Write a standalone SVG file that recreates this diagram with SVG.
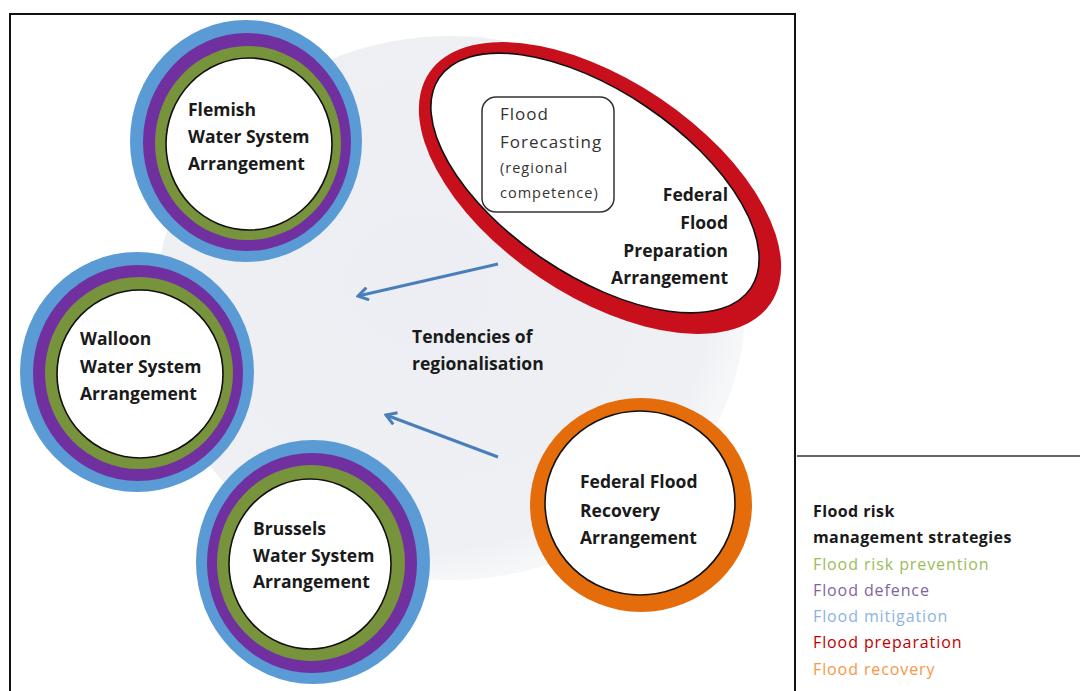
<svg xmlns="http://www.w3.org/2000/svg" width="1080" height="691" viewBox="0 0 1080 691">
  <style>
    .lbl { font-family: "Open Sans", "Noto Sans", sans-serif; font-weight: bold; font-size: 17.5px; fill: #1a1a1a; }
    .fc { font-family: "Open Sans", "Noto Sans", sans-serif; font-size: 17px; fill: #333; letter-spacing: 1px; }
    .fcs { font-family: "Open Sans", "Noto Sans", sans-serif; font-size: 14.5px; fill: #333; letter-spacing: 1px; }
    .leg { font-family: "Open Sans", "Noto Sans", sans-serif; font-size: 16px; letter-spacing: 0.9px; }
    .legb { font-family: "Open Sans", "Noto Sans", sans-serif; font-size: 16px; font-weight: bold; fill: #1a1a1a; letter-spacing: 0.4px; }
    .blue { fill: #5b9bd5; }
    .purple { fill: #7030a0; }
    .green { fill: #77933c; }
    .core { fill: #ffffff; stroke: #111; stroke-width: 1.6; }
    .arrow { stroke: #4a7ebb; stroke-width: 3; fill: none; marker-end: url(#head); }
  </style>
  <defs>
    <marker id="head" viewBox="0 0 12 12" refX="10" refY="6" markerWidth="5" markerHeight="5" orient="auto" markerUnits="strokeWidth">
      <path d="M2,1 L10,6 L2,11" fill="none" stroke="#4a7ebb" stroke-width="2.4" stroke-linejoin="miter"/>
    </marker>
    <radialGradient id="haze" cx="0.45" cy="0.45" r="0.55">
      <stop offset="0" stop-color="#eceef3"/>
      <stop offset="0.9" stop-color="#eef0f4"/>
      <stop offset="1" stop-color="#f6f7f9"/>
    </radialGradient>
  </defs>

  <rect width="1080" height="691" fill="#ffffff"/>

  <!-- diagram frame -->
  <rect x="10" y="14" width="785" height="690" fill="none" stroke="#111" stroke-width="2"/>

  <!-- shaded backdrop -->
  <ellipse cx="450" cy="308" rx="295" ry="272" fill="url(#haze)"/>

  <!-- connectors -->
  <g id="connectors">
    <line class="arrow" x1="498" y1="264" x2="358" y2="296"/>
    <line class="arrow" x1="498" y1="457" x2="386" y2="415"/>
  </g>

  <!-- Flemish -->
  <g id="flemish">
    <ellipse class="blue" cx="246" cy="141" rx="116" ry="121"/>
    <ellipse class="purple" cx="247" cy="142" rx="104" ry="109"/>
    <ellipse class="green" cx="248" cy="143" rx="93" ry="97"/>
    <ellipse class="core" cx="249" cy="144" rx="83" ry="86"/>
    <text class="lbl" x="188" y="116">Flemish</text>
    <text class="lbl" x="188" y="143">Water System</text>
    <text class="lbl" x="188" y="170">Arrangement</text>
  </g>

  <!-- Walloon -->
  <g id="walloon">
    <ellipse class="blue" cx="137" cy="372" rx="117" ry="120"/>
    <ellipse class="purple" cx="138" cy="373" rx="105" ry="108"/>
    <ellipse class="green" cx="139" cy="373" rx="94" ry="96"/>
    <ellipse class="core" cx="140" cy="374" rx="83" ry="84"/>
    <text class="lbl" x="80" y="345">Walloon</text>
    <text class="lbl" x="80" y="373">Water System</text>
    <text class="lbl" x="80" y="400">Arrangement</text>
  </g>

  <!-- Brussels -->
  <g id="brussels">
    <ellipse class="blue" cx="313" cy="562" rx="117" ry="122"/>
    <ellipse class="purple" cx="312" cy="563" rx="105" ry="110"/>
    <ellipse class="green" cx="311" cy="563" rx="94" ry="98"/>
    <ellipse class="core" cx="310" cy="564" rx="81" ry="85"/>
    <text class="lbl" x="253" y="535">Brussels</text>
    <text class="lbl" x="253" y="562">Water System</text>
    <text class="lbl" x="253" y="588">Arrangement</text>
  </g>

  <!-- Federal flood preparation -->
  <g id="preparation">
    <ellipse cx="600" cy="188" rx="206" ry="108" transform="rotate(34 600 188)" fill="#c8101c"/>
    <ellipse cx="595" cy="183" rx="188" ry="92" transform="rotate(34 595 183)" fill="#ffffff" stroke="#111" stroke-width="1.6"/>
    <text class="lbl" x="728" y="201" text-anchor="end">Federal</text>
    <text class="lbl" x="728" y="229" text-anchor="end">Flood</text>
    <text class="lbl" x="728" y="257" text-anchor="end">Preparation</text>
    <text class="lbl" x="728" y="284" text-anchor="end">Arrangement</text>
  </g>

  <!-- Flood forecasting -->
  <g id="forecasting">
    <rect x="482" y="97" width="132" height="115" rx="14" fill="#ffffff" stroke="#333" stroke-width="1.5"/>
    <text class="fc" x="500" y="120">Flood</text>
    <text class="fc" x="500" y="148">Forecasting</text>
    <text class="fcs" x="500" y="173">(regional</text>
    <text class="fcs" x="500" y="198">competence)</text>
  </g>

  <!-- Federal flood recovery -->
  <g id="recovery">
    <ellipse cx="641" cy="505" rx="111" ry="107" fill="#e46c0a"/>
    <ellipse class="core" cx="640" cy="503" rx="95" ry="92"/>
    <text class="lbl" x="580" y="488">Federal Flood</text>
    <text class="lbl" x="580" y="517">Recovery</text>
    <text class="lbl" x="580" y="544">Arrangement</text>
  </g>

  <!-- centre caption -->
  <g id="caption">
    <text class="lbl" x="412" y="343">Tendencies of</text>
    <text class="lbl" x="412" y="370">regionalisation</text>
  </g>

  <!-- legend -->
  <g id="legend">
    <line x1="797" y1="456" x2="1080" y2="456" stroke="#666" stroke-width="2"/>
    <text class="legb" x="813" y="517">Flood risk</text>
    <text class="legb" x="813" y="543">management strategies</text>
    <text class="leg" x="813" y="570" fill="#9bbb59">Flood risk prevention</text>
    <text class="leg" x="813" y="596" fill="#8064a2">Flood defence</text>
    <text class="leg" x="813" y="622" fill="#8db3e2">Flood mitigation</text>
    <text class="leg" x="813" y="648" fill="#c00000">Flood preparation</text>
    <text class="leg" x="813" y="675" fill="#f79646">Flood recovery</text>
  </g>
</svg>
